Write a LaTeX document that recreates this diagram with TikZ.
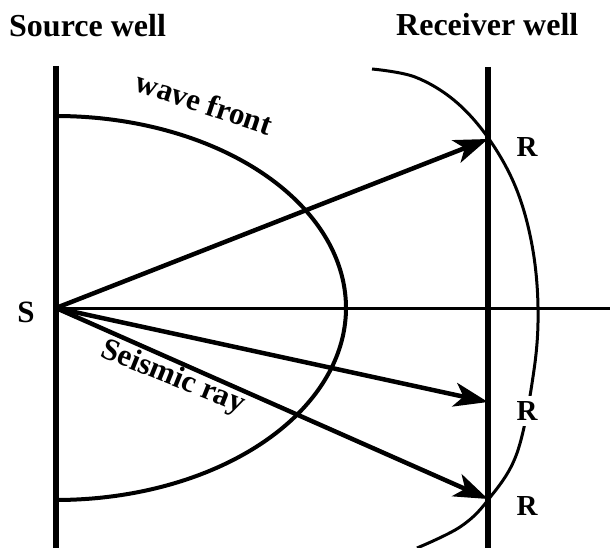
\documentclass[tikz,border=0pt]{standalone}
\usepackage{fontspec}
\setmainfont{Liberation Serif}
\usetikzlibrary{arrows.meta}
\begin{document}
\begin{tikzpicture}[x=1pt,y=-1pt,
  well/.style={line width=5.5pt},
  ray/.style={line width=4.5pt,-{Stealth[length=34pt,width=24pt,inset=9pt]}},
  front/.style={line width=4pt},
  outer/.style={line width=3pt},
  axisline/.style={line width=3pt},
  title/.style={font=\bfseries\fontsize{32}{32}\selectfont, inner sep=0pt},
  lab/.style={font=\bfseries\fontsize{31}{31}\selectfont, inner sep=0pt},
  rlab/.style={font=\bfseries\fontsize{29}{29}\selectfont, fill=white, inner sep=6pt}
]
\useasboundingbox (0,0) rectangle (610,548);
% coordinates
\coordinate (S) at (56,308);
\coordinate (SWtop) at (56,66);
\coordinate (SWbot) at (56,548);
\coordinate (RWtop) at (488,67);
\coordinate (RWbot) at (488,548);
\coordinate (T1) at (488,139);
\coordinate (T2) at (488,402);
\coordinate (T3) at (488,499);
\coordinate (Hend) at (610,308);
% titles
\node[title, anchor=base west] (srcwell) at (9,37) {Source well};
\node[title, anchor=base west] (recwell) at (396,36) {Receiver well};
% wells
\draw[well] (SWtop) -- (SWbot);
\draw[well] (RWtop) -- (RWbot);
% horizontal line
\draw[axisline] (S) -- (Hend);
% inner wave front (half ellipse)
\draw[front] plot[domain=-90:90, samples=80, smooth] ({56+290*cos(\x)}, {308+192*sin(\x)});
% outer wave front
\draw[outer] plot[smooth, tension=0.6] coordinates {(372,69) (415,77) (455,101) (489,139) (516,188) (532,245) (538,307) (534,370) (517,453) (488,500) (460,527) (417,548)};
% rays
\draw[ray] (S) -- (T1);
\draw[ray] (S) -- (T2);
\draw[ray] (S) -- (T3);
% labels
\node[lab] (Slab) at (26,312) {S};
\node[rlab] (R1) at (527,147) {R};
\node[rlab] (R2) at (527,411) {R};
\node[rlab] (R3) at (527,506) {R};
\node[lab, rotate=-18.5, anchor=base] (wf) at (201,113) {wave front};
\node[lab, rotate=-22, anchor=base] (sr) at (170,385) {Seismic ray};
\end{tikzpicture}
\end{document}
